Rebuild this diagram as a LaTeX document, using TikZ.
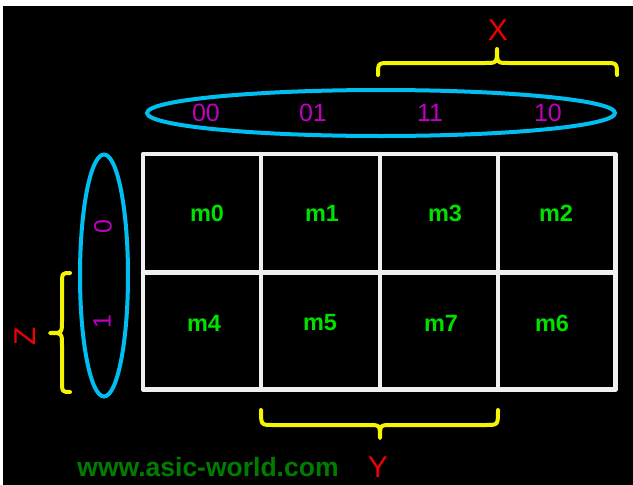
\documentclass[tikz,border=0pt]{standalone}
\usepackage{fontspec}
\setmainfont{Liberation Sans}
\definecolor{kcyan}{RGB}{0,190,240}
\definecolor{kyellow}{RGB}{245,245,0}
\definecolor{kmag}{RGB}{192,0,192}
\definecolor{kred}{RGB}{240,0,0}
\definecolor{kgreen}{RGB}{0,225,0}
\definecolor{kdkgreen}{RGB}{0,125,0}
\definecolor{kwhite}{RGB}{240,240,240}
\tikzset{
  gridline/.style={draw=kwhite, line width=4.5pt, line join=round, line cap=round},
  ovalline/.style={draw=kcyan, line width=4pt},
  bracepath/.style={draw=kyellow, line width=4pt, line cap=round, line join=round},
  minterm/.style={text=kgreen, font=\fontsize{23.5}{26}\selectfont\bfseries, inner sep=0pt},
  code/.style={text=kmag, font=\fontsize{25}{28}\selectfont, inner sep=0pt},
  varname/.style={text=kred, font=\fontsize{30}{34}\selectfont, inner sep=0pt},
  site/.style={text=kdkgreen, font=\fontsize{26.5}{30}\selectfont\bfseries, inner sep=0pt}
}
\begin{document}
\begin{tikzpicture}[x=1pt,y=-1pt]
\useasboundingbox (0,0) rectangle (633,485);
\fill[white] (0,0) rectangle (633,485);
\fill[black] (3,6) rectangle (633,485);

% grid
\draw[gridline] (143,154) rectangle (615.5,389.5);
\foreach \gx in {261,380,498} \draw[gridline] (\gx,154) -- (\gx,389.5);
\draw[gridline] (143,272.5) -- (615.5,272.5);

% minterms
\node[minterm] (m0) at (207,213) {m0};
\node[minterm] (m1) at (322,213) {m1};
\node[minterm] (m3) at (445,213) {m3};
\node[minterm] (m2) at (556,213) {m2};
\node[minterm] (m4) at (204,323) {m4};
\node[minterm] (m5) at (320,323) {m5};
\node[minterm] (m7) at (441,323) {m7};
\node[minterm] (m6) at (552,323) {m6};

% ellipses
\draw[ovalline] (381,113) ellipse [x radius=234, y radius=23];
\draw[ovalline] (104,275.5) ellipse [x radius=24, y radius=121];

% column codes
\node[code] (c00) at (206,112.5) {00};
\node[code] (c01) at (313,112.5) {01};
\node[code] (c11) at (430,112.5) {11};
\node[code] (c10) at (548,112.5) {10};
% row codes
\node[code, rotate=90] (r0) at (103,227) {0};
\node[code, rotate=90] (r1) at (102,322) {1};

% X brace
\draw[bracepath] (378,75) .. controls (378,63) .. (390,63) -- (485,63)
  .. controls (497,63) .. (497,49) .. controls (497,63) .. (509,63) -- (605,63)
  .. controls (617,63) .. (617,75);
% Y brace
\draw[bracepath] (261,410) .. controls (261,425) .. (273,425) -- (368,425)
  .. controls (380,425) .. (380,438) .. controls (380,425) .. (392,425) -- (486,425)
  .. controls (498,425) .. (498,410);
% Z brace
\draw[bracepath] (70,273) .. controls (62,273) .. (62,285) -- (62,321)
  .. controls (62,333) .. (50,333) .. controls (62,333) .. (62,345) -- (62,380)
  .. controls (62,392) .. (70,392);

% variable names
\node[varname] (X) at (498,30) {X};
\node[varname] (Y) at (378,467) {Y};
\node[varname, rotate=90] (Z) at (25,336) {Z};

% site
\node[site] (web) at (208,467) {www.asic-world.com};
\end{tikzpicture}
\end{document}
